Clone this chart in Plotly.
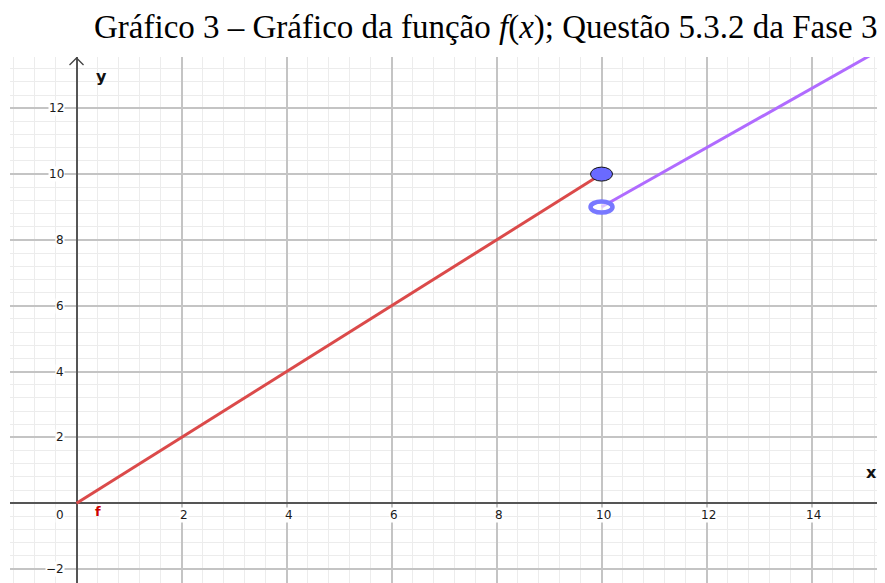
import plotly.graph_objects as go

# Data
seg1_x = [0, 10]
seg1_y = [0, 10]
seg2_x = [10, 16]
seg2_y = [9, 14.4]
closed_pt = (10, 10)
open_pt = (10, 9)
xtick_vals = [2, 4, 6, 8, 10, 12, 14]
ytick_vals = [-2, 2, 4, 6, 8, 10, 12]
title_text = "Gráfico 3 – Gráfico da função <i>f</i>(<i>x</i>); Questão 5.3.2 da Fase 3"

# page body has an 8px margin, so the figure is sized to end at the window edge
W, H = 877, 575
ML, MT = 2, 49
PW, PH = W - ML, H - MT
XR = [-1.267, 15.4]
YR = [-2.421, 13.557]

fig = go.Figure()
fig.add_trace(go.Scatter(x=seg1_x, y=seg1_y, mode="lines",
                         line=dict(color="#db4a4a", width=3), hoverinfo="skip"))
fig.add_trace(go.Scatter(x=seg2_x, y=seg2_y, mode="lines",
                         line=dict(color="#b06bff", width=3), hoverinfo="skip"))

shapes = []
shapes.append(dict(type="circle", xref="x", yref="y", xsizemode="pixel", ysizemode="pixel",
                   xanchor=open_pt[0], yanchor=open_pt[1], x0=-11, x1=11, y0=-5.5, y1=5.5,
                   line=dict(color="#7878ff", width=4.5), fillcolor="rgba(255,255,255,0.6)"))
shapes.append(dict(type="circle", xref="x", yref="y", xsizemode="pixel", ysizemode="pixel",
                   xanchor=closed_pt[0], yanchor=closed_pt[1], x0=-11, x1=11, y0=-7, y1=7,
                   line=dict(color="#111111", width=1), fillcolor="#6a6aff"))
shapes.append(dict(type="path", xref="x", yref="y", xsizemode="pixel", ysizemode="pixel",
                   xanchor=0, yanchor=YR[1], path="M -7,-8 L 0,-1 L 7,-8",
                   line=dict(color="#444444", width=1.3)))

ann = []
lab_font = dict(family="DejaVu Sans, Arial, sans-serif", size=12, color="#1a1a1a")
for v in ytick_vals:
    txt = ("\u2212" + str(-v)) if v < 0 else str(v)
    ann.append(dict(x=0, y=v, xref="x", yref="y", text=txt, showarrow=False,
                    xanchor="right", yanchor="middle", xshift=-12, font=lab_font,
                    bgcolor="white", borderpad=0))
for v in xtick_vals:
    ann.append(dict(x=v, y=0, xref="x", yref="y", text=str(v), showarrow=False,
                    xanchor="center", yanchor="middle", yshift=-12, xshift=2, font=lab_font,
                    bgcolor="white", borderpad=0))
ann.append(dict(x=0, y=0, xref="x", yref="y", text="0", showarrow=False,
                xanchor="center", yanchor="middle", xshift=-17, yshift=-12, font=lab_font,
                bgcolor="white", borderpad=0))
ann.append(dict(x=0, y=YR[1], xref="x", yref="y", text="<b>y</b>", showarrow=False,
                xanchor="center", yanchor="middle", xshift=25, yshift=-19,
                font=dict(family="DejaVu Sans, Arial, sans-serif", size=16, color="#111111")))
ann.append(dict(x=XR[1], y=0, xref="x", yref="y", text="<b>x</b>", showarrow=False,
                xanchor="center", yanchor="middle", xshift=-14, yshift=31,
                font=dict(family="DejaVu Sans, Arial, sans-serif", size=16, color="#111111")))
ann.append(dict(x=0, y=0, xref="x", yref="y", text="<b>f</b>", showarrow=False,
                xanchor="center", yanchor="middle", xshift=21, yshift=-8,
                font=dict(family="DejaVu Sans, Arial, sans-serif", size=13, color="#cc0000")))
ann.append(dict(x=(486 - 8 - ML) / PW, y=1 + (MT - (27 - 8)) / PH, xref="paper", yref="paper",
                text=title_text, showarrow=False, xanchor="center", yanchor="middle",
                font=dict(family="Liberation Serif, Times New Roman, serif", size=33, color="#000000")))

axis_common = dict(showticklabels=False, ticks="", zeroline=True, zerolinecolor="#555555",
                   zerolinewidth=1.6, showgrid=True, gridcolor="#c4c4c4", gridwidth=1.5,
                   dtick=2, tick0=0, showline=False, fixedrange=True,
                   minor=dict(dtick=0.4, tick0=0, showgrid=True, gridcolor="#ececec", gridwidth=1))

fig.update_layout(
    width=W, height=H,
    margin=dict(l=ML, r=0, t=MT, b=0),
    paper_bgcolor="white", plot_bgcolor="white",
    showlegend=False,
    xaxis=dict(range=XR, **axis_common),
    yaxis=dict(range=YR, **axis_common),
    shapes=shapes, annotations=ann,
)
fig.write_html("out.html")
